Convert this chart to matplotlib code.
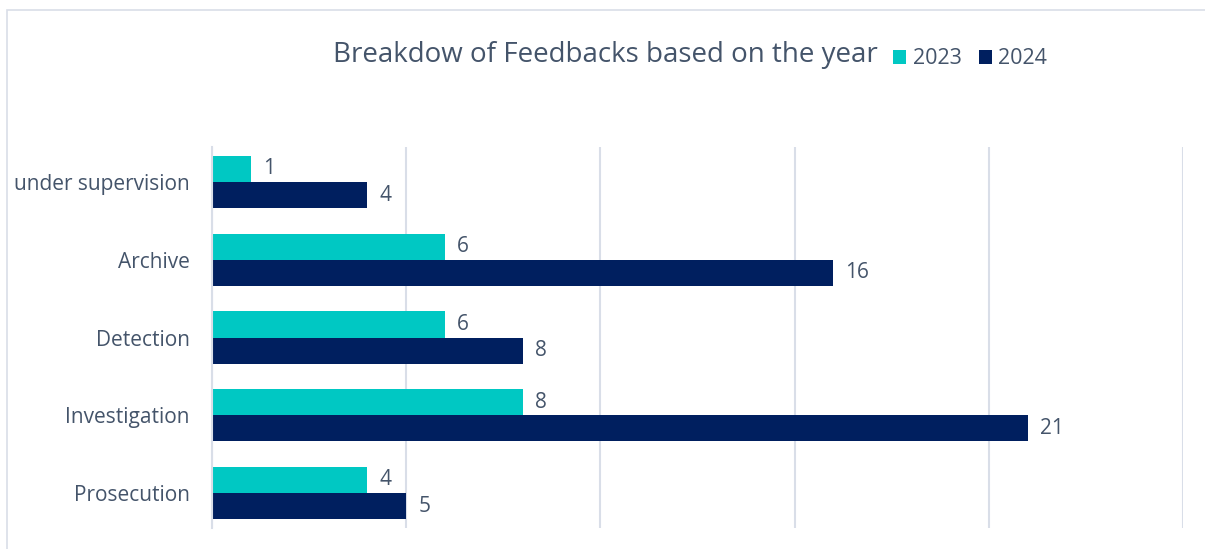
import matplotlib
matplotlib.use("Agg")
import matplotlib.pyplot as plt
from matplotlib.patches import Rectangle
import numpy as np

categories = ["Prosecution", "Investigation", "Detection", "Archive", "under supervision"]
values_2023 = [4, 8, 6, 6, 1]
values_2024 = [5, 21, 8, 16, 4]
series_names = ["2023", "2024"]
title = "Breakdow of Feedbacks based on the year"

C23 = "#00C8C3"
C24 = "#001F5F"
TXT = "#44546A"
GRID = "#D9DEE8"

plt.rcParams['font.family'] = ['Open Sans', 'DejaVu Sans']

W, H = 1205, 549
fig = plt.figure(figsize=(W/100, H/100), dpi=100)

# outer frame
fig.patches.append(Rectangle((7/W, -0.1), 1.2, (H-10)/H + 0.1, transform=fig.transFigure,
                             fill=False, edgecolor=GRID, linewidth=1.2))

ax = fig.add_axes([212/W, 1-528/H, (1183-212)/W, (528-147)/H])
y = np.arange(len(categories))
h = 0.335
b23 = ax.barh(y + h/2, values_2023, height=h, color=C23, label=series_names[0])
b24 = ax.barh(y - h/2, values_2024, height=h, color=C24, label=series_names[1])

ax.set_xlim(0, 25)
ax.set_ylim(-0.45, 4.45)
ax.set_xticks(np.arange(0, 26, 5))
ax.xaxis.grid(True, color=GRID, linewidth=1.5)
ax.set_axisbelow(True)
ax.tick_params(axis='x', length=0, labelbottom=False)
ax.tick_params(axis='y', length=0, pad=16, labelsize=15, labelcolor=TXT)
ax.set_yticks(y)
ax.set_yticklabels(categories)
for s in ["top", "right", "bottom"]:
    ax.spines[s].set_visible(False)
ax.spines["left"].set_color(GRID)
ax.spines["left"].set_linewidth(1.5)

for bars, vals in ((b23, values_2023), (b24, values_2024)):
    for bar, v in zip(bars, vals):
        ax.annotate(str(v), (bar.get_width(), bar.get_y() + bar.get_height()/2),
                    xytext=(12, 0), textcoords="offset pixels",
                    va="center", ha="left", fontsize=15, color=TXT)

fig.text(605/W, 1-55/H, title, ha="center", va="center", fontsize=20, color=TXT)
leg = fig.legend(handles=[b23, b24], loc="center left", bbox_to_anchor=(874/W, 1-59/H),
                 ncol=2, frameon=False, fontsize=15.5, handlelength=0.6, handleheight=0.6,
                 handletextpad=0.3, columnspacing=0.8, labelcolor=TXT)

fig.savefig("out.png", dpi=100, facecolor="white")
